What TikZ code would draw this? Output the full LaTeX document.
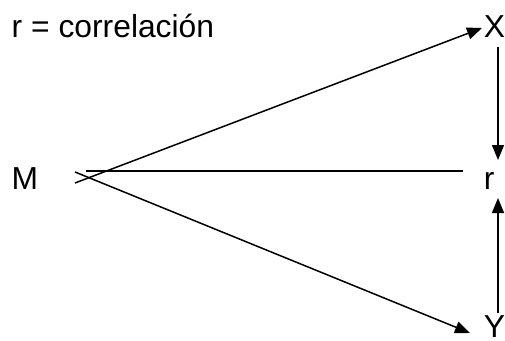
\documentclass[tikz,border=0pt]{standalone}
\usepackage{fontspec}
\setmainfont{Liberation Sans}
\usetikzlibrary{arrows.meta}
\begin{document}
\begin{tikzpicture}[x=1pt, y=-1pt,
    letra/.style={anchor=base west, inner sep=0pt, font=\fontsize{31.8}{36}\selectfont},
    flecha/.style={-{Triangle[length=15pt, width=12pt]}},
    line width=1.5pt]
  \useasboundingbox (0,0) rectangle (505,340);
  % letras
  \node[letra] (titulo) at (11,37) {r = correlación};
  \node[letra] (M) at (11,189) {M};
  \node[letra] (X) at (483,37) {X};
  \node[letra] (r) at (483,189) {r};
  \node[letra] (Y) at (483,337) {Y};
  
  % puntos de las rectas
  \coordinate (mx) at (75,183);
  \coordinate (my) at (75,172);
  \coordinate (m0) at (86,171);
  \coordinate (r0) at (463,171);
  \coordinate (xtip) at (482,28);
  \coordinate (ytip) at (470,333);
  \coordinate (xbajo) at (498,47);
  \coordinate (rarriba) at (498,160);
  \coordinate (rabajo) at (498,198);
  \coordinate (yarriba) at (498,313);
  
  % rectas desde M
  \draw[flecha] (mx) -- (xtip);
  \draw[flecha] (my) -- (ytip);
  \draw (m0) -- (r0);
  
  % flechas hacia r
  \draw[flecha] (xbajo) -- (rarriba);
  \draw[flecha] (yarriba) -- (rabajo);
\end{tikzpicture}
\end{document}
